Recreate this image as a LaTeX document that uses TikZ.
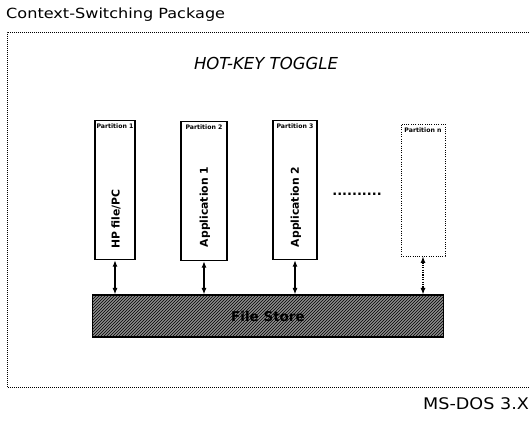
\documentclass[tikz,border=0pt]{standalone}
\usepackage{fontspec}
\setmainfont{DejaVu Sans}
\usetikzlibrary{patterns,arrows.meta}

\begin{document}
\begin{tikzpicture}[x=1pt,y=-1pt,
    part/.style={draw,line width=1.3pt,minimum width=44pt,minimum height=139pt,inner sep=0pt},
    dotpart/.style={part,line width=0.9pt,dash pattern=on 1pt off 1.3pt},
    partlabel/.style={font=\bfseries\fontsize{6.2}{7}\selectfont,anchor=north,inner sep=0pt,yshift=-4pt},
    app/.style={font=\bfseries\fontsize{10.8}{12}\selectfont,rotate=90,inner sep=0pt},
    link/.style={{Latex[length=6.5pt,width=5pt]}-{Latex[length=6.5pt,width=5pt]},line width=1.4pt} ]
  \useasboundingbox (0,0) rectangle (529,431);
  \node at (6,15) [anchor=west,inner sep=0pt,xscale=1.15,font=\fontsize{14}{16}\selectfont] (title) {Context-Switching Package};
  \draw [line width=0.9pt,dash pattern=on 0.9pt off 1.1pt] (545,32) -- (7,32) -- (7,387) -- (545,387);
  \node at (266,63) [font=\itshape\fontsize{16.5}{18}\selectfont] (hotkey) {HOT-KEY TOGGLE};
  \node at (115,190) [part,minimum width=40pt] (p1) {};
  \node at (204,191) [part,minimum width=46pt] (p2) {};
  \node at (295,190) [part] (p3) {};
  \node at (423,190) [dotpart,minimum height=132pt] (pn) {};
  \node [partlabel] at (p1.north) (l1) {Partition 1};
  \node [partlabel] at (p2.north) (l2) {Partition 2};
  \node [partlabel] at (p3.north) (l3) {Partition 3};
  \node [partlabel] at (pn.north) (ln) {Partition n};
  \node at (116,219) [app] (a1) {HP file/PC};
  \node at (205,207) [app] (a2) {Application 1};
  \node at (296,207) [app] (a3) {Application 2};
  \node at (357,195) [anchor=base,inner sep=0pt,font=\bfseries\fontsize{13}{15}\selectfont] (dots) {..........};
  \node at (268,316) [draw,line width=1.1pt,minimum width=351pt,minimum height=42pt,
    preaction={fill=black!45},pattern=north east lines,
    font=\bfseries\fontsize{13.5}{15}\selectfont] (fs) {File Store};
  \draw [link] (p1.south) -- (p1.south |- fs.north);
  \draw [link] (p2.south) -- (p2.south |- fs.north);
  \draw [link] (p3.south) -- (p3.south |- fs.north);
  \draw [link,line width=1.1pt,dash pattern=on 1.2pt off 1.2pt] (pn.south) -- (pn.south |- fs.north);
  \node at (423,404) [anchor=west,inner sep=0pt,xscale=1.1,font=\fontsize{16}{18}\selectfont] (msdos) {MS-DOS 3.X};
\end{tikzpicture}
\end{document}
